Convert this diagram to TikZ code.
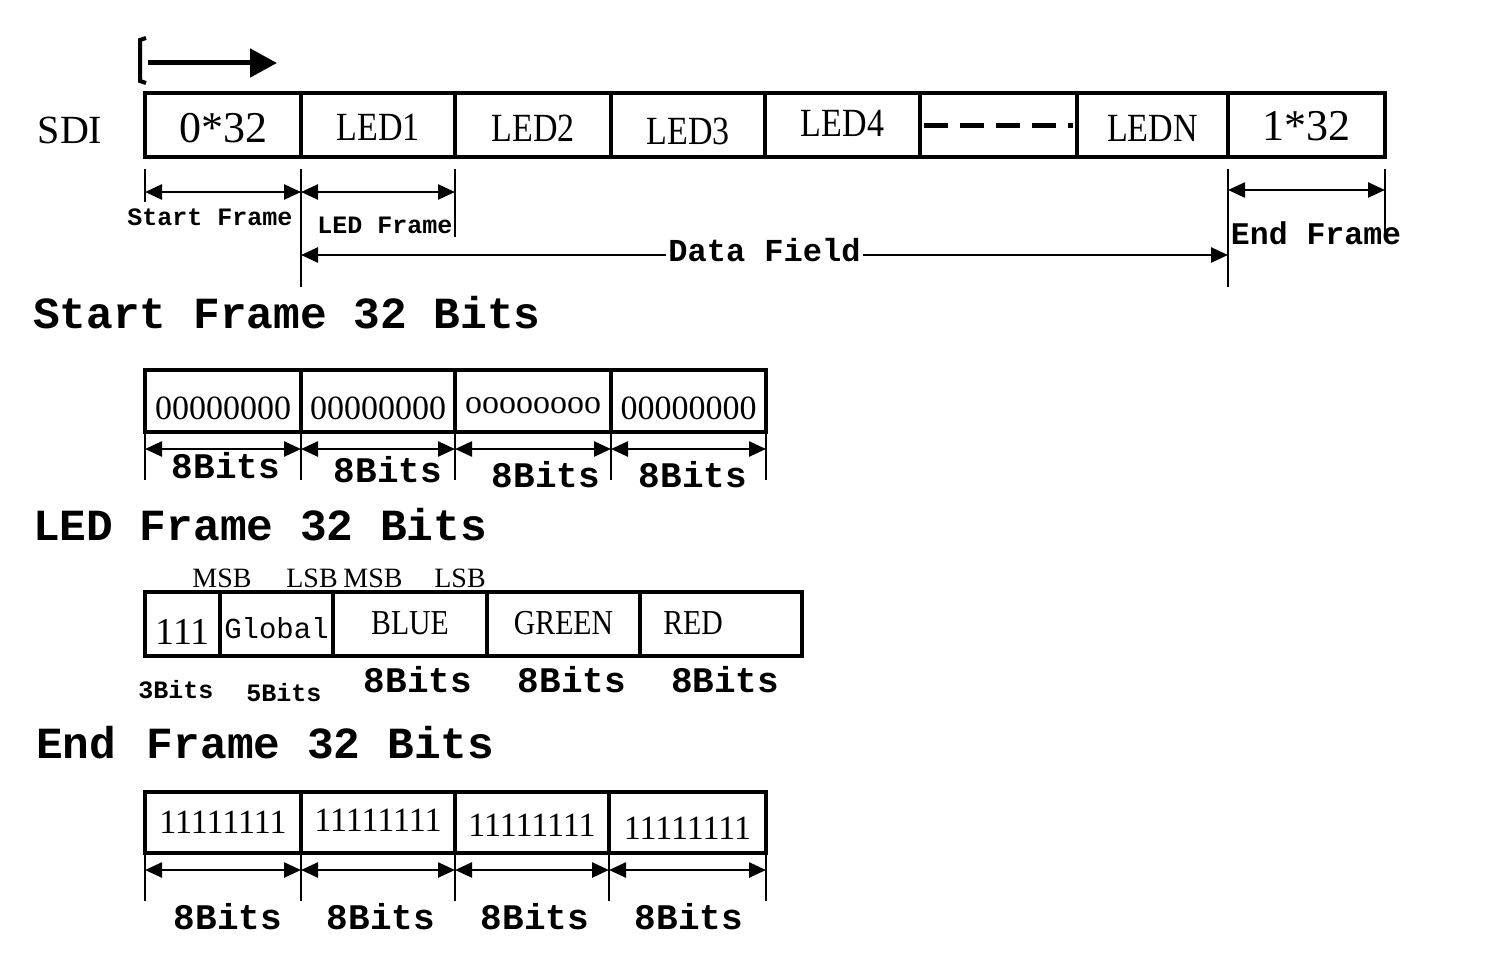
\documentclass[tikz,border=0pt]{standalone}
\usepackage{fontspec}
\setmainfont{Liberation Serif}
\newfontfamily\narrowfont[FakeStretch=0.85]{Liberation Serif}
\newfontfamily\monof{Liberation Mono}
\usetikzlibrary{arrows.meta}
\newcommand\fs[1]{\fontsize{#1}{#1}\selectfont}
\newcommand\lowr[2]{\raisebox{-#1pt}[\height][\depth]{#2}}
\begin{document}
\begin{tikzpicture}[x=1pt,y=-1pt,
  cell/.style={draw,line width=4pt,inner sep=0pt,outer sep=0pt},
  title/.style={anchor=west,inner sep=0pt,font=\monof\bfseries\fs{44.5}},
  ext/.style={line width=1.5pt},
  dim/.style={line width=2.5pt,{Triangle[length=17pt,width=15pt]}-{Triangle[length=17pt,width=15pt]}},
  lab/.style={inner sep=0pt,font=\monof\bfseries\fs{#1}},
  bits/.style={inner sep=0pt,font=\monof\bfseries\fs{36}},
  big/.style={font=\fs{44}},
  led/.style={font=\narrowfont\fs{40}},
  col/.style={font=\narrowfont\fs{35}},
  byte/.style={font=\fs{34}},
  sb/.style={inner sep=0pt,font=\fs{28}}
]
\useasboundingbox (0,0) rectangle (1488,966);

% ---------- top stream ----------
\coordinate (brT) at (146,38);
\coordinate (brB) at (146,83);
\draw[line width=4pt] (brT) -- (140,40) -- (140,81) -- (brB);
\coordinate (arS) at (148,63);
\coordinate (arE) at (277,63);
\draw[line width=5pt,-{Triangle[length=27pt,width=28pt]}] (arS) -- (arE);

\node[inner sep=0pt,font=\fs{40}] (sdi) at (70,130) {SDI};

\node[cell,big,minimum width=156pt,minimum height=64pt] (t0) at (223,125) {\lowr{3}{0*32}};
\node[cell,led,minimum width=154pt,minimum height=64pt] (t1) at (378,125) {\lowr{2}{LED1}};
\node[cell,led,minimum width=156pt,minimum height=64pt] (t2) at (533,125) {\lowr{3}{LED2}};
\node[cell,led,minimum width=154pt,minimum height=64pt] (t3) at (688,125) {\lowr{6}{LED3}};
\node[cell,led,minimum width=155pt,minimum height=64pt] (t4) at (842.5,125) {\lowr{-2}{LED4}};
\node[cell,minimum width=157pt,minimum height=64pt] (t5) at (998.5,125) {};
\node[cell,led,minimum width=151pt,minimum height=64pt] (t6) at (1152.5,125) {\lowr{3}{LEDN}};
\node[cell,big,minimum width=157pt,minimum height=64pt] (t7) at (1306.5,125) {\lowr{1}{1*32}};
\draw[line width=5pt,dash pattern=on 24pt off 12pt] ([xshift=4pt]t5.west) -- ([xshift=-4pt]t5.east);

% extension lines
\draw[ext] ([yshift=-12pt]t0.south west) -- ([yshift=-45pt]t0.south west);
\draw[ext] ([yshift=-12pt]t1.south west) -- ([yshift=-130pt]t1.south west);
\draw[ext] ([yshift=-12pt]t1.south east) -- ([yshift=-80pt]t1.south east);
\draw[ext] ([yshift=-12pt]t7.south west) -- ([yshift=-130pt]t7.south west);
\draw[ext] ([yshift=-12pt]t7.south east) -- ([yshift=-75pt]t7.south east);
% dimension arrows
\draw[dim] ([yshift=-35pt]t0.south west) -- ([yshift=-35pt]t0.south east);
\draw[dim] ([yshift=-35pt]t1.south west) -- ([yshift=-35pt]t1.south east);
\draw[dim] ([yshift=-33pt]t7.south west) -- ([yshift=-33pt]t7.south east);
\draw[dim] ([yshift=-98pt]t1.south west) -- node[lab=32,fill=white,inner xsep=2pt,yshift=5pt] (df) {Data Field} ([yshift=-98pt]t7.south west);
\node[lab=25] (lsf) at (210,217) {Start Frame};
\node[lab=25] (llf) at (385,225) {LED Frame};
\node[lab=31.5] (lef) at (1316,233) {End Frame};

% ---------- start frame ----------
\node[title] (ts) at (33,313) {Start Frame 32 Bits};
\node[cell,byte,minimum width=156pt,minimum height=62pt] (s0) at (223,401) {\lowr{7}{00000000}};
\node[cell,byte,minimum width=154pt,minimum height=62pt] (s1) at (378,401) {\lowr{7}{00000000}};
\node[cell,byte,minimum width=156pt,minimum height=62pt] (s2) at (533,401) {\lowr{5}{oooooooo}};
\node[cell,byte,minimum width=155pt,minimum height=62pt] (s3) at (688.5,401) {\lowr{7}{00000000}};
\foreach \c in {s0,s1,s2,s3}{
  \draw[ext] (\c.south west) -- ([yshift=-48pt]\c.south west);
  \draw[dim] ([yshift=-17pt]\c.south west) -- ([yshift=-17pt]\c.south east);
}
\draw[ext] (s3.south east) -- ([yshift=-48pt]s3.south east);
\node[bits] (sb0) at (226,466) {8Bits};
\node[bits] (sb1) at (388,470) {8Bits};
\node[bits] (sb2) at (546,475) {8Bits};
\node[bits] (sb3) at (693,475) {8Bits};

% ---------- LED frame ----------
\node[title] (tl) at (33,525) {LED Frame 32 Bits};
\node[cell,font=\fs{38},minimum width=75pt,minimum height=64pt] (l0) at (182.5,624) {\lowr{8}{111}};
\node[cell,font=\monof\fs{29},minimum width=113pt,minimum height=64pt] (l1) at (276.5,624) {\lowr{4}{Global}};
\node[cell,col,minimum width=154pt,minimum height=64pt] (l2) at (410,624) {\lowr{-1}{BLUE}};
\node[cell,col,minimum width=153pt,minimum height=64pt] (l3) at (563.5,624) {\lowr{-1}{GREEN}};
\node[cell,col,minimum width=162pt,minimum height=64pt] (l4) at (721,624) {\lowr{-1}{RED\hspace{56pt}}};
\node[sb] (m1) at (222,578) {MSB};
\node[sb] (m2) at (312,578) {LSB};
\node[sb] (m3) at (373,578) {MSB};
\node[sb] (m4) at (460,578) {LSB};
\node[lab=25] (b0) at (176,690) {3Bits};
\node[lab=25] (b1) at (284,693) {5Bits};
\node[bits] (b2) at (418,680) {8Bits};
\node[bits] (b3) at (572,680) {8Bits};
\node[bits] (b4) at (725,680) {8Bits};

% ---------- end frame ----------
\node[title] (te) at (36,743) {End\ \hspace{4pt}Frame 32 Bits};
\node[cell,byte,minimum width=156pt,minimum height=61pt] (e0) at (223,822.5) {\lowr{0}{11111111}};
\node[cell,byte,minimum width=154pt,minimum height=61pt] (e1) at (378,822.5) {\lowr{-2}{11111111}};
\node[cell,byte,minimum width=154pt,minimum height=61pt] (e2) at (532,822.5) {\lowr{3}{11111111}};
\node[cell,byte,minimum width=157pt,minimum height=61pt] (e3) at (687.5,822.5) {\lowr{6}{11111111}};
\foreach \c in {e0,e1,e2,e3}{
  \draw[ext] (\c.south west) -- ([yshift=-48pt]\c.south west);
  \draw[dim] ([yshift=-17pt]\c.south west) -- ([yshift=-17pt]\c.south east);
}
\draw[ext] (e3.south east) -- ([yshift=-48pt]e3.south east);
\node[bits] (eb0) at (228,917) {8Bits};
\node[bits] (eb1) at (381,917) {8Bits};
\node[bits] (eb2) at (535,917) {8Bits};
\node[bits] (eb3) at (689,917) {8Bits};
\end{tikzpicture}
\end{document}
